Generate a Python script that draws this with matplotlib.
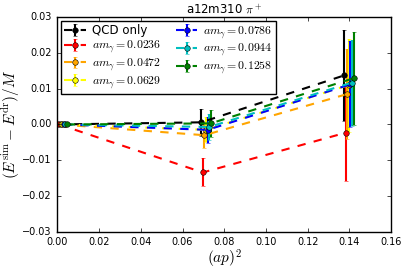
import matplotlib
matplotlib.use("Agg")
import matplotlib.pyplot as plt
import numpy as np

plt.style.use('classic')
plt.rcParams['mathtext.fontset'] = 'cm'
plt.rcParams['font.family'] = ['DejaVu Sans']

x_base = [0.0, 0.069, 0.1375]
labels = ['QCD only', r'$am_\gamma=0.0236$', r'$am_\gamma=0.0472$', r'$am_\gamma=0.0629$',
          r'$am_\gamma=0.0786$', r'$am_\gamma=0.0944$', r'$am_\gamma=0.1258$']
colors = ['k', 'r', 'orange', 'yellow', 'b', 'c', 'g']
values = [
    [0.0, 0.0006, 0.0137],
    [0.0, -0.0134, -0.0023],
    [0.0, -0.0030, 0.0085],
    [0.0, -0.0015, 0.0110],
    [0.0, -0.0015, 0.0112],
    [0.0, -0.0007, 0.0117],
    [0.0, 0.0003, 0.0129],
]
errors = [
    [0.0001, 0.0037, 0.0127],
    [0.0001, 0.0039, 0.0135],
    [0.0001, 0.0035, 0.0125],
    [0.0001, 0.0035, 0.0130],
    [0.0001, 0.0036, 0.0120],
    [0.0001, 0.0035, 0.0120],
    [0.0001, 0.0037, 0.0130],
]
offset = 0.00075

fig = plt.figure(figsize=(4.07, 2.70), dpi=100, facecolor='white')
ax = fig.add_axes([0.141, 0.141, 0.820, 0.796])

for i in range(len(labels)):
    xs = np.array(x_base) + i * offset
    ax.errorbar(xs, values[i], yerr=errors[i], color=colors[i], ls='--', lw=1.5,
                marker='o', ms=4, mec='k', mew=0.4, elinewidth=1.5, capsize=1.5,
                ecolor=colors[i], label=labels[i])

ax.set_xlim(0, 0.16)
ax.set_ylim(-0.03, 0.03)
ax.set_xticks(np.arange(0, 0.161, 0.02))
ax.set_yticks(np.arange(-0.03, 0.031, 0.01))
ax.tick_params(labelsize=7, length=3)
ax.set_xlabel(r'$(ap)^2$', fontsize=11, labelpad=0)
ax.set_ylabel(r'$(E^{\rm sim}-E^{\rm dr})/M$', fontsize=11, labelpad=0)
ax.set_title(r'a12m310 $\pi^+$', fontsize=8.5, pad=3)
leg = ax.legend(loc='upper left', ncol=2, fontsize=8.5, numpoints=1,
                handlelength=1.8, handletextpad=0.5, columnspacing=1.3, labelspacing=0.1,
                borderpad=0.3, borderaxespad=0.3, frameon=True, fancybox=False)
fig.savefig('out.png', dpi=100, facecolor='white')
